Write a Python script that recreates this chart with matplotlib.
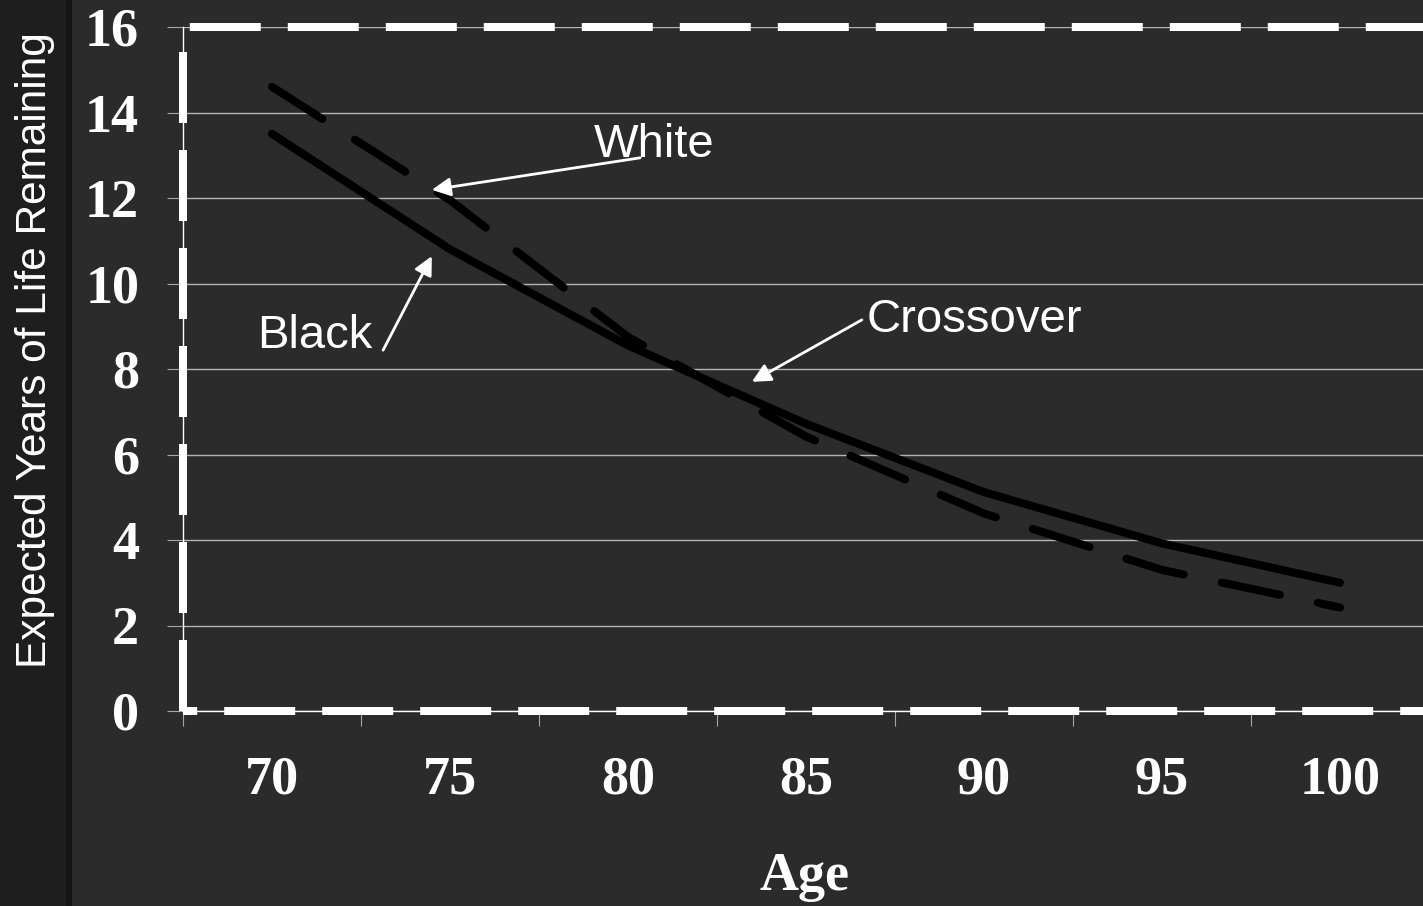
import matplotlib
matplotlib.use("Agg")
import matplotlib.pyplot as plt
from matplotlib.patches import Rectangle

# data
ages = [70, 75, 80, 85, 90, 95, 100]
black = [13.5, 10.8, 8.55, 6.72, 5.12, 3.92, 3.0]
white = [14.6, 11.95, 8.75, 6.42, 4.62, 3.3, 2.42]
yticks = [0, 2, 4, 6, 8, 10, 12, 14, 16]

bg = "#2b2b2b"
sans = "Liberation Sans"
serif = "Liberation Serif"

fig = plt.figure(figsize=(14.23, 9.06), dpi=100, facecolor=bg)
# darker strip on the left
fig.patches.append(Rectangle((0, 0), 70 / 1423, 1, transform=fig.transFigure,
                             facecolor="#1e1e1e", edgecolor="none", zorder=0))
fig.patches.append(Rectangle((66 / 1423, 0), 6 / 1423, 1, transform=fig.transFigure,
                             facecolor="#141414", edgecolor="none", zorder=0))

ax = fig.add_axes([183 / 1423, 195 / 906, (1429 - 183) / 1423, 684 / 906])
ax.set_facecolor("none")
ax.set_xlim(67.5, 102.5)
ax.set_ylim(0, 16)

ax.grid(axis="y", color="#b4b4b4", lw=1.0)
ax.set_axisbelow(True)

for s in ["right", "top"]:
    ax.spines[s].set_visible(False)
for s in ["left", "bottom"]:
    ax.spines[s].set_color("white")
    ax.spines[s].set_linewidth(1.0)

# thick dashed frame
lw_frame = 5.76
dash = (8.875, 3.375)
ax.plot([0, 0], [0, 1], transform=ax.transAxes, color="white", lw=lw_frame,
        linestyle=(0, dash), dash_capstyle="butt", clip_on=False, zorder=3)
ax.plot([0, 1], [0, 0], transform=ax.transAxes, color="white", lw=lw_frame,
        linestyle=(7.1, dash), dash_capstyle="butt", clip_on=False, zorder=3)
ax.plot([0, 1], [1, 1], transform=ax.transAxes, color="white", lw=lw_frame,
        linestyle=(11.4, dash), dash_capstyle="butt", clip_on=False, zorder=3)

# series
ax.plot(ages, black, color="black", lw=5.8, solid_capstyle="round",
        solid_joinstyle="round", zorder=4)
ax.plot(ages, white, color="black", lw=5.8, linestyle=(0, (7.4, 4.8)),
        dash_capstyle="round", zorder=4)

# ticks
ax.set_yticks(yticks)
ax.set_yticklabels([str(v) for v in yticks], fontfamily=serif, fontweight="bold",
                   fontsize=39, color="white")
ax.tick_params(axis="y", direction="out", length=11.5, width=0.8, color="#a8a8a8", pad=20)

ax.set_xticks(ages)
ax.set_xticklabels([str(a) for a in ages], fontfamily=serif, fontweight="bold",
                   fontsize=39, color="white")
ax.tick_params(axis="x", which="major", length=0, pad=32)
ax.set_xticks([a - 2.5 for a in ages] + [102.5], minor=True)
ax.tick_params(axis="x", which="minor", direction="out", length=11, width=0.8, color="#a8a8a8")

# annotations
arrow = dict(arrowstyle="-|>", color="white", lw=2.0, mutation_scale=28,
             shrinkA=0, shrinkB=0)
ax.annotate("", xy=(74.49, 12.19), xytext=(80.34, 12.94), arrowprops=arrow, zorder=5)
ax.annotate("", xy=(74.49, 10.64), xytext=(73.12, 8.44), arrowprops=arrow, zorder=5)
ax.annotate("", xy=(83.48, 7.70), xytext=(86.57, 9.15), arrowprops=arrow, zorder=5)
ax.text(80.72, 13.24, "White", fontfamily=sans, fontsize=34, color="white",
        ha="center", va="center", zorder=5)
ax.text(71.2, 8.77, "Black", fontfamily=sans, fontsize=34, color="white",
        ha="center", va="center", zorder=5)
ax.text(89.72, 9.15, "Crossover", fontfamily=sans, fontsize=34, color="white",
        ha="center", va="center", zorder=5)

fig.text(805 / 1423, 1 - 877 / 906, "Age", fontfamily=serif, fontweight="bold",
         fontsize=39, color="white", ha="center", va="center")
fig.text(35 / 1423, 1 - 350 / 906, "Expected Years of Life Remaining", fontfamily=sans,
         fontsize=30.5, color="white", ha="center", va="center", rotation=90)

fig.savefig("out.png", dpi=100, facecolor=bg)
